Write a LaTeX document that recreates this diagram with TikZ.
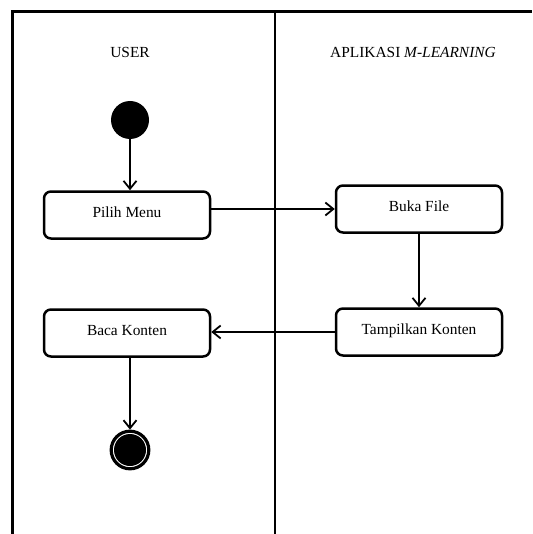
\documentclass[tikz,border=0pt]{standalone}
\usepackage{fontspec}
\setmainfont{Liberation Serif}
\usetikzlibrary{arrows.meta}
\begin{document}
\begin{tikzpicture}[x=0.5pt,y=-0.5pt,font=\fontsize{7.7}{9}\selectfont,
  act/.style={draw,line width=1.25pt,rounded corners=3.5pt,minimum width=83pt,minimum height=23.5pt,
    inner sep=0pt,text height=5.5pt,text depth=3pt},
  flow/.style={line width=0.9pt,-{Straight Barb[length=4pt,width=6.5pt]}}]
\useasboundingbox (0,0) rectangle (532,534);
\draw[line width=1.5pt] (12,534) -- (12,12) -- (532,12);
\draw[line width=1pt] (275,12) -- (275,534);
\node (lane1) at (130,52) {USER};
\node (lane2) at (413,52) {APLIKASI \textit{M-LEARNING}};
\node[circle,fill,minimum size=19pt,inner sep=0pt] (start) at (130,120) {};
\node[act] (pilih) at (127,215) {Pilih Menu};
\node[act] (buka) at (419,209) {Buka File};
\node[act] (tampil) at (419,332) {Tampilkan Konten};
\node[act] (baca) at (127,333) {Baca Konten};
\node[circle,draw,line width=1.6pt,minimum size=18.8pt,inner sep=0pt,
  path picture={\fill (path picture bounding box.center) circle (8pt);}] (stop) at (130,450) {};
\draw[flow] (start) -- (start |- pilih.north);
\draw[flow] (pilih.east |- buka.west) -- (buka.west);
\draw[flow] (buka) -- (tampil);
\draw[flow] (tampil) -- (tampil -| baca.east);
\draw[flow] (stop |- baca.south) -- (stop);
\end{tikzpicture}
\end{document}
